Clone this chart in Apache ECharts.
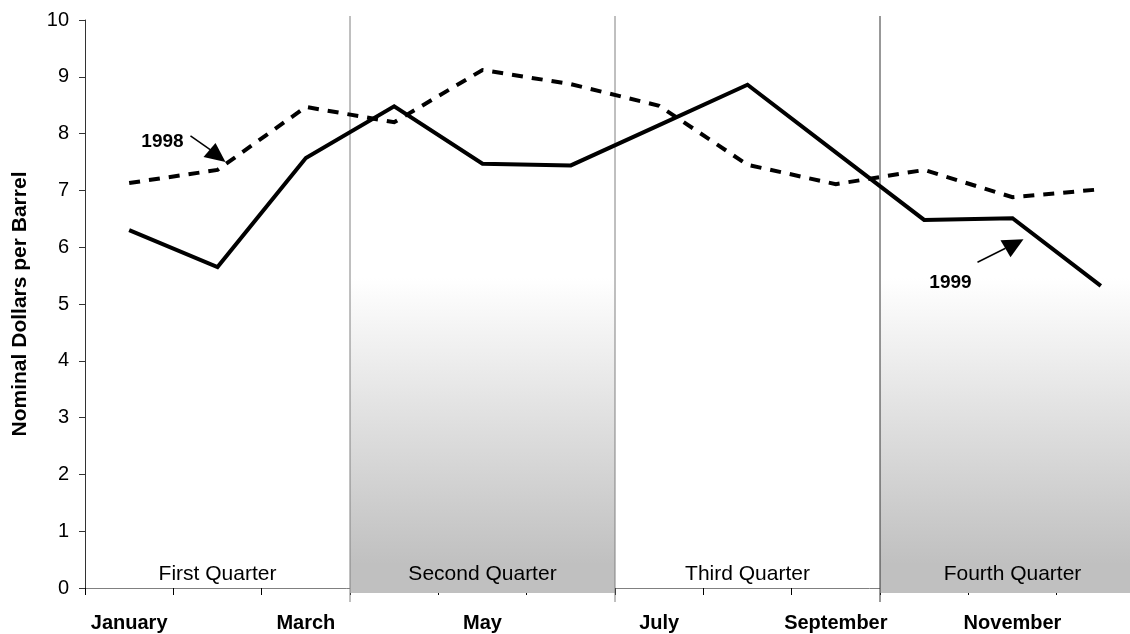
<!DOCTYPE html>
<html>
<head>
<meta charset="utf-8">
<script src="https://cdn.jsdelivr.net/npm/echarts@6/dist/echarts.min.js"></script>
<style>
  html, body { margin: 0; padding: 0; background: #fff; }
  #chart { width: 1130px; height: 634px; }
</style>
</head>
<body>
<div id="chart"></div>
<script>
var months = ['January', 'February', 'March', 'April', 'May', 'June',
              'July', 'August', 'September', 'October', 'November', 'December'];
var price1998 = [7.13, 7.36, 8.47, 8.20, 9.12, 8.87, 8.49, 7.45, 7.11, 7.36, 6.88, 7.02];
var price1999 = [6.30, 5.65, 7.57, 8.48, 7.47, 7.44, 8.15, 8.86, 7.67, 6.48, 6.51, 5.32];
var quarters = ['First Quarter', 'Second Quarter', 'Third Quarter', 'Fourth Quarter'];
var quarterShaded = [false, true, false, true];
var yTicks = [0, 1, 2, 3, 4, 5, 6, 7, 8, 9, 10];

var FONT = '"Liberation Sans", Arial, sans-serif';

// quarter bands: [first month index, quarter index]
var quarterData = quarters.map(function (q, i) { return [i * 3, i]; });

// arrow labels pointing at a point of a series
var annoData = [
    [1, price1998[1], 0],   // 1998 -> February
    [10, price1999[10], 1]  // 1999 -> November
];
var annoLabels = ['1998', '1999'];

function renderQuarter(params, api) {
    var start = api.value(0);
    var q = api.value(1);
    var bw = api.size([1, 0])[0];
    var left = api.coord([start, 0])[0] - bw / 2;
    var right = api.coord([start + 2, 0])[0] + bw / 2;
    var base = api.coord([start, 0])[1];
    var top = api.coord([start, yTicks[yTicks.length - 1]])[1];
    var children = [];
    if (quarterShaded[q]) {
        children.push({
            type: 'rect',
            shape: { x: left, y: top, width: right - left, height: base + 5 - top },
            style: {
                fill: new echarts.graphic.LinearGradient(0, 0, 0, 1, [
                    { offset: 0, color: '#ffffff' },
                    { offset: 0.45, color: '#ffffff' },
                    { offset: 0.95, color: '#c0c0c0' },
                    { offset: 1, color: '#c0c0c0' }
                ])
            }
        });
    }
    if (q > 0) {
        children.push({
            type: 'line',
            shape: { x1: left, y1: top - 4, x2: left, y2: base + 14 },
            style: { stroke: q === 3 ? '#333' : '#808080', lineWidth: 1 }
        });
    }
    children.push({
        type: 'text',
        style: {
            text: quarters[q],
            x: (left + right) / 2,
            y: base - 14,
            align: 'center',
            verticalAlign: 'middle',
            font: '21px ' + FONT,
            fill: '#000'
        }
    });
    return { type: 'group', children: children };
}

function renderAnno(params, api) {
    var p = api.coord([api.value(0), api.value(1)]);
    var k = api.value(2);
    // offsets in pixels from the pointed data point
    var g = k === 0
        ? { text: [-55, -28], line: [[-27, -34], [-7, -20]], head: [[-14, -13], [-2, -27], [8, -8]] }
        : { text: [-62, 65], line: [[-35, 44], [-7, 30]], head: [[-12, 22], [11, 21], [-2, 39]] };
    return {
        type: 'group',
        children: [
            {
                type: 'line',
                shape: { x1: p[0] + g.line[0][0], y1: p[1] + g.line[0][1], x2: p[0] + g.line[1][0], y2: p[1] + g.line[1][1] },
                style: { stroke: '#000', lineWidth: 1.5 }
            },
            {
                type: 'polygon',
                shape: { points: g.head.map(function (d) { return [p[0] + d[0], p[1] + d[1]]; }) },
                style: { fill: '#000' }
            },
            {
                type: 'text',
                style: {
                    text: annoLabels[k],
                    x: p[0] + g.text[0],
                    y: p[1] + g.text[1],
                    align: 'center',
                    verticalAlign: 'middle',
                    font: 'bold 19px ' + FONT,
                    fill: '#000'
                }
            }
        ]
    };
}

var chart = echarts.init(document.getElementById('chart'), null, { renderer: 'canvas' });
var option = {
    animation: false,
    backgroundColor: '#fff',
    grid: { left: 85, right: -15, top: 20, bottom: 46, containLabel: false, outerBoundsMode: 'none' },
    xAxis: {
        type: 'category',
        data: months,
        boundaryGap: true,
        axisLine: { lineStyle: { color: '#808080', width: 1 } },
        axisTick: { show: true, interval: 0, length: 7, lineStyle: { color: '#000' } },
        axisLabel: {
            interval: 1,
            margin: 25,
            color: '#000',
            fontFamily: FONT,
            fontWeight: 'bold',
            fontSize: 20
        },
        splitLine: { show: false }
    },
    yAxis: {
        type: 'value',
        min: yTicks[0],
        max: yTicks[yTicks.length - 1],
        interval: 1,
        name: 'Nominal Dollars per Barrel',
        nameLocation: 'middle',
        nameGap: 54,
        nameTextStyle: { color: '#000', fontFamily: FONT, fontWeight: 'bold', fontSize: 21 },
        axisLine: { show: true, lineStyle: { color: '#333', width: 1 } },
        axisTick: { show: true, length: 6, lineStyle: { color: '#333' } },
        axisLabel: { color: '#000', fontFamily: FONT, fontSize: 20, margin: 16 },
        splitLine: { show: false }
    },
    series: [
        {
            name: 'quarters',
            type: 'custom',
            renderItem: renderQuarter,
            data: quarterData,
            encode: { x: 0, y: 1 },
            z: 1,
            silent: true
        },
        {
            name: '1998',
            type: 'line',
            data: price1998,
            symbol: 'none',
            z: 3,
            lineStyle: { color: '#000', width: 4, type: [11, 9], cap: 'butt', join: 'miter' }
        },
        {
            name: '1999',
            type: 'line',
            data: price1999,
            symbol: 'none',
            z: 4,
            lineStyle: { color: '#000', width: 4, join: 'miter' }
        },
        {
            name: 'labels',
            type: 'custom',
            renderItem: renderAnno,
            data: annoData,
            encode: { x: 0, y: 1 },
            z: 5,
            silent: true
        }
    ]
};
chart.setOption(option);
</script>
</body>
</html>
